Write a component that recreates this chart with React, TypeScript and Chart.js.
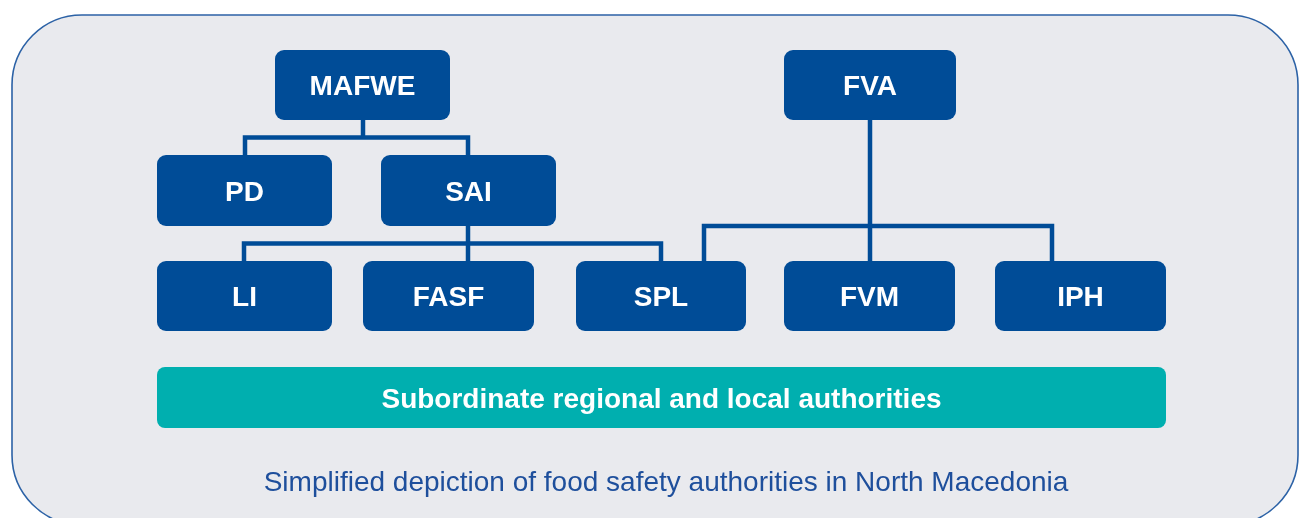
import { useEffect, useRef } from "react";
import { Chart, registerables } from "chart.js";

Chart.register(...registerables);

const W = 1301;
const H = 518;

// Org units (boxes)
const nodeLabels = ["MAFWE", "FVA", "PD", "SAI", "LI", "FASF", "SPL", "FVM", "IPH"];
const nodeLeft = [275, 784, 157, 381, 157, 363, 576, 784, 995];
const nodeRight = [450, 956, 332, 556, 332, 534, 746, 955, 1166];
const nodeTop = [50, 50, 155, 155, 261, 261, 261, 261, 261];
const nodeBottom = [120, 120, 226, 226, 331, 331, 331, 331, 331];

// Connector polylines [x, y] in diagram units
const connectorPaths: number[][][] = [
  [[363, 120], [363, 137.5]],
  [[245, 155], [245, 137.5], [468, 137.5], [468, 155]],
  [[468, 226], [468, 261]],
  [[244, 261], [244, 243.5], [661, 243.5], [661, 261]],
  [[870, 120], [870, 261]],
  [[704, 261], [704, 226], [1052, 226], [1052, 261]],
];

// Subordinate band
const bandLabel = "Subordinate regional and local authorities";
const bandExtent = [157, 1166, 367, 428];

// Caption (center x, baseline y)
const captionText = "Simplified depiction of food safety authorities in North Macedonia";
const captionPos = [666, 491];

// Frame
const frameExtent = [12, 1298, 15, 525];

const BOX = "#004C97";
const TEAL = "#00AFAF";
const BG = "#E9EAEE";
const FRAME = "#2C62A6";
const CAPTION = "#1E4F9C";
const FONT = "'Liberation Sans', Arial, sans-serif";

function roundRect(ctx: CanvasRenderingContext2D, x: number, y: number, w: number, h: number, r: number) {
  ctx.beginPath();
  ctx.moveTo(x + r, y);
  ctx.lineTo(x + w - r, y);
  ctx.arcTo(x + w, y, x + w, y + r, r);
  ctx.lineTo(x + w, y + h - r);
  ctx.arcTo(x + w, y + h, x + w - r, y + h, r);
  ctx.lineTo(x + r, y + h);
  ctx.arcTo(x, y + h, x, y + h - r, r);
  ctx.lineTo(x, y + r);
  ctx.arcTo(x, y, x + r, y, r);
  ctx.closePath();
}

const diagramPlugin = {
  id: "orgDiagram",
  beforeDraw(chart: any) {
    const ctx: CanvasRenderingContext2D = chart.ctx;
    const xs = chart.scales.x;
    const ys = chart.scales.y;
    ctx.save();
    ctx.fillStyle = "#ffffff";
    ctx.fillRect(0, 0, chart.width, chart.height);
    const fx0 = xs.getPixelForValue(frameExtent[0]);
    const fx1 = xs.getPixelForValue(frameExtent[1]);
    const fy0 = ys.getPixelForValue(frameExtent[2]);
    const fy1 = ys.getPixelForValue(frameExtent[3]);
    roundRect(ctx, fx0, fy0, fx1 - fx0, fy1 - fy0, 70);
    ctx.fillStyle = BG;
    ctx.fill();
    ctx.lineWidth = 1.6;
    ctx.strokeStyle = FRAME;
    ctx.stroke();
    ctx.restore();
  },
  afterDatasetsDraw(chart: any) {
    const ctx: CanvasRenderingContext2D = chart.ctx;
    const xs = chart.scales.x;
    const ys = chart.scales.y;
    const px = (v: number) => xs.getPixelForValue(v);
    const py = (v: number) => ys.getPixelForValue(v);
    ctx.save();
    // connectors
    ctx.strokeStyle = BOX;
    ctx.lineWidth = 4.5;
    ctx.lineJoin = "miter";
    ctx.lineCap = "butt";
    connectorPaths.forEach((path) => {
      ctx.beginPath();
      path.forEach((p, i) => {
        if (i === 0) ctx.moveTo(px(p[0]), py(p[1]));
        else ctx.lineTo(px(p[0]), py(p[1]));
      });
      ctx.stroke();
    });
    // boxes
    nodeLabels.forEach((label, i) => {
      const x0 = px(nodeLeft[i]);
      const x1 = px(nodeRight[i]);
      const y0 = py(nodeTop[i]);
      const y1 = py(nodeBottom[i]);
      roundRect(ctx, x0, y0, x1 - x0, y1 - y0, 9);
      ctx.fillStyle = BOX;
      ctx.fill();
      ctx.fillStyle = "#ffffff";
      ctx.font = `bold 28px ${FONT}`;
      ctx.textAlign = "center";
      ctx.textBaseline = "alphabetic";
      ctx.fillText(label, (x0 + x1) / 2, (y0 + y1) / 2 + 10);
    });
    // band
    {
      const x0 = px(bandExtent[0]);
      const x1 = px(bandExtent[1]);
      const y0 = py(bandExtent[2]);
      const y1 = py(bandExtent[3]);
      roundRect(ctx, x0, y0, x1 - x0, y1 - y0, 8);
      ctx.fillStyle = TEAL;
      ctx.fill();
      ctx.fillStyle = "#ffffff";
      ctx.font = `bold 28px ${FONT}`;
      ctx.textAlign = "center";
      ctx.textBaseline = "alphabetic";
      ctx.fillText(bandLabel, (x0 + x1) / 2, (y0 + y1) / 2 + 10.5);
    }
    // caption
    ctx.fillStyle = CAPTION;
    ctx.font = `28px ${FONT}`;
    ctx.textAlign = "center";
    ctx.textBaseline = "alphabetic";
    ctx.fillText(captionText, px(captionPos[0]), py(captionPos[1]));
    ctx.restore();
  },
};

export default function App() {
  const canvasRef = useRef<HTMLCanvasElement | null>(null);

  useEffect(() => {
    const canvas = canvasRef.current;
    if (!canvas) return;
    const chart = new Chart(canvas, {
      type: "scatter",
      data: {
        datasets: [
          {
            data: nodeLabels.map((_, i) => ({
              x: (nodeLeft[i] + nodeRight[i]) / 2,
              y: (nodeTop[i] + nodeBottom[i]) / 2,
            })),
            pointRadius: 0,
            pointHoverRadius: 0,
          },
        ],
      },
      options: {
        animation: false,
        responsive: false,
        maintainAspectRatio: false,
        devicePixelRatio: 1,
        layout: { padding: 0 },
        events: [],
        scales: {
          x: { type: "linear", min: 0, max: W, display: false },
          y: { type: "linear", min: 0, max: H, reverse: true, display: false },
        },
        plugins: {
          legend: { display: false },
          tooltip: { enabled: false },
        },
      },
      plugins: [diagramPlugin],
    });
    return () => chart.destroy();
  }, []);

  return (
    <div style={{ position: "fixed", left: 0, top: 0, width: W, height: H }}>
      <canvas ref={canvasRef} width={W} height={H} style={{ display: "block", width: W, height: H }} />
    </div>
  );
}
